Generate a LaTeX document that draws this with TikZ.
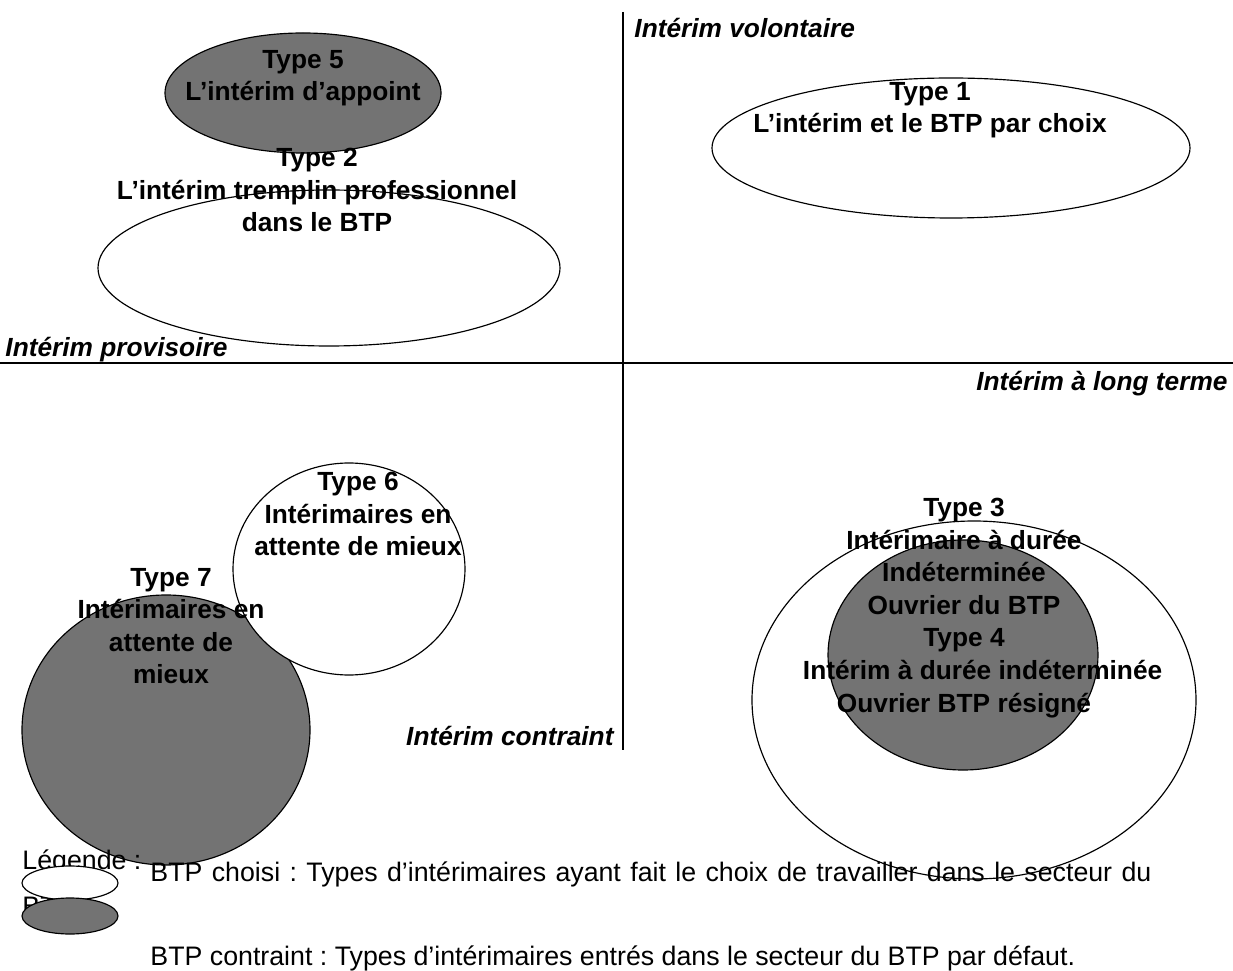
\documentclass[tikz,border=0pt]{standalone}
\usepackage{fontspec}
\setmainfont{Liberation Sans}
\usetikzlibrary{positioning}
\definecolor{grisfonce}{HTML}{737373}
\frenchspacing

\begin{document}
\begin{tikzpicture}[
  x=0.43pt, y=-0.43pt,
  blanc/.style={draw, fill=white, line width=0.5pt},
  gris/.style={draw, fill=grisfonce, line width=0.5pt},
  axe/.style={line width=0.9pt},
  typetxt/.style={align=center, inner sep=0pt, font=\fontsize{11.3}{14}\selectfont\bfseries},
  axetxt/.style={inner sep=0pt, font=\fontsize{11.3}{14}\selectfont\bfseries\itshape},
  legtxt/.style={inner sep=0pt, anchor=west, font=\fontsize{11.5}{14}\selectfont}
]
\useasboundingbox (0,0) rectangle (1233,971);
% axes
\coordinate (haut) at (623,12);
\coordinate (bas) at (623,750);
\coordinate (gauche) at (0,363);
\coordinate (droite) at (1233,363);
\draw[axe] (haut) -- (bas);
\draw[axe] (gauche) -- (droite);
\node[axetxt, anchor=west] (volontaire) at (634,28) {Intérim volontaire};
\node[axetxt, anchor=west] (provisoire) at (5,350) {Intérim provisoire};
\node[axetxt, anchor=east] (longterme) at (1228,384) {Intérim à long terme};
\node[axetxt, anchor=east] (contraint) at (614,736) {Intérim contraint};
% ellipses
\draw[gris] (303,93) ellipse [x radius=138, y radius=60];
\draw[blanc] (329,268) ellipse [x radius=231, y radius=78];
\draw[blanc] (951,148) ellipse [x radius=239, y radius=70];
\draw[gris] (166,730) ellipse [x radius=144, y radius=135];
\draw[blanc] (349,569) ellipse [x radius=116, y radius=106];
\draw[blanc] (974,700) ellipse [x radius=222, y radius=179];
\draw[gris] (963,655) ellipse [x radius=135, y radius=115];
% textes des types
\node[typetxt] (type5) at (303,78) {Type 5\\L’intérim d’appoint};
\node[typetxt] (type2) at (317,190) {Type 2\\L’intérim tremplin professionnel\\dans le BTP};
\node[typetxt] (type1) at (930,110) {Type 1\\L’intérim et le BTP par choix};
\node[typetxt] (type6) at (358,514) {Type 6\\Intérimaires en\\attente de mieux};
\node[typetxt] (type7) at (171,626) {Type 7\\Intérimaires en\\attente de\\mieux};
\node[typetxt] (type34) at (964,608) {Type 3\\Intérimaire à durée\\Indéterminée\\Ouvrier du BTP\\Type 4\\\hspace*{40\pgflinewidth}Intérim à durée indéterminée\\Ouvrier BTP résigné};
% legende
\node[legtxt] (legende) at (22,862) {Légende :};
\node[legtxt] (suite) at (22,906) {BTP};
\draw[blanc] (70,883) ellipse [x radius=48, y radius=17];
\draw[gris] (70,916) ellipse [x radius=48, y radius=18];
\node[legtxt] (choisi) at (150,874) {\makebox[430.4pt][s]{BTP choisi : Types d’intérimaires ayant fait le choix de travailler dans le secteur du}};
\node[legtxt] (subi) at (150,958) {BTP contraint : Types d’intérimaires entrés dans le secteur du BTP par défaut.};
\end{tikzpicture}
\end{document}
